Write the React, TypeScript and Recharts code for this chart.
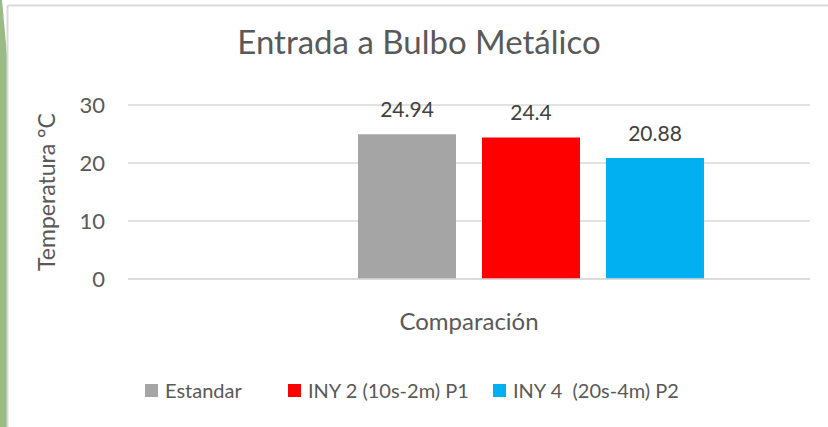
import { BarChart, Bar, XAxis, YAxis, CartesianGrid, Legend, LabelList } from "recharts";

const categories = ["Comparación"];
const seriesNames = ["Estandar", "INY 2 (10s-2m) P1", "INY 4  (20s-4m) P2"];
const seriesValues = [[24.94], [24.4], [20.88]];
const seriesColors = ["#A5A5A5", "#FF0000", "#00B0F0"];
const yTicks = [0, 10, 20, 30];

const data = categories.map((name, i) => {
  const row: Record<string, string | number | null> = { name, blank: null };
  seriesNames.forEach((s, j) => {
    row[`s${j}`] = seriesValues[j][i];
  });
  return row;
});

const FONT = "Lato, 'Open Sans', sans-serif";
// legend item slot widths
const legendSlots = [143, 205, 200];

function LegendContent() {
  return (
    <div style={{ display: "flex", alignItems: "center", fontFamily: FONT, fontSize: 20, color: "#595959", height: 22 }}>
      {seriesNames.map((s, i) => (
        <div key={s} style={{ display: "flex", alignItems: "center", width: legendSlots[i] }}>
          <span style={{ width: 13, height: 13, background: seriesColors[i], display: "inline-block", marginRight: 7, flex: "none" }} />
          <span style={{ whiteSpace: "pre" }}>{s}</span>
        </div>
      ))}
    </div>
  );
}

export default function App() {
  return (
    <div style={{ position: "absolute", left: 0, top: 0, width: 828, height: 427, background: "#fff", overflow: "hidden" }}>
      <svg width={828} height={427} style={{ position: "absolute", left: 0, top: 0 }}>
        <polygon points="0,0 2,0 7,55 7,427 0,427" fill="#9BBB85" />
        <line x1={7.5} y1={5.5} x2={828} y2={5.5} stroke="#D9D9D9" strokeWidth={2} />
        <line x1={7.5} y1={5.5} x2={7.5} y2={427} stroke="#D9D9D9" strokeWidth={2} />
        <text x={419} y={54} textAnchor="middle" fontFamily={FONT} fontSize={33} fill="#595959">
          Entrada a Bulbo Metálico
        </text>
      </svg>
      <div style={{ position: "absolute", left: 0, top: 0 }}>
        <BarChart
          width={828}
          height={427}
          data={data}
          margin={{ top: 105, right: 18, left: 30, bottom: 66 }}
          barCategoryGap={106}
          barGap={26}
        >
          <CartesianGrid vertical={false} stroke="#D9D9D9" strokeWidth={1.5} />
          <XAxis
            dataKey="name"
            height={60}
            tickLine={false}
            axisLine={{ stroke: "#D9D9D9", strokeWidth: 1.5 }}
            tickMargin={28}
            tick={{ fontFamily: FONT, fontSize: 24, fill: "#595959" }}
          />
          <YAxis
            width={98}
            domain={[0, 30]}
            ticks={yTicks}
            tickLine={false}
            axisLine={false}
            tickMargin={17}
            tick={{ fontFamily: FONT, fontSize: 22, fill: "#595959" }}
            label={({ viewBox }: any) => {
              const cx = viewBox.x + 16;
              const cy = viewBox.y + viewBox.height / 2;
              return (
                <text
                  x={cx}
                  y={cy}
                  transform={`rotate(-90 ${cx} ${cy})`}
                  textAnchor="middle"
                  dominantBaseline="central"
                  fontFamily={FONT}
                  fontSize={23}
                  fill="#595959"
                >
                  Temperatura °C
                </text>
              );
            }}
          />
          <Legend
            content={<LegendContent />}
            wrapperStyle={{ position: "absolute", left: 145, top: 379, width: "auto" }}
          />
          <Bar dataKey="blank" fill="#ffffff" legendType="none" isAnimationActive={false} />
          {seriesNames.map((s, i) => (
            <Bar key={s} dataKey={`s${i}`} name={s} fill={seriesColors[i]} isAnimationActive={false}>
              <LabelList dataKey={`s${i}`} position="top" offset={17} style={{ fontFamily: FONT, fontSize: 21, fill: "#404040" }} />
            </Bar>
          ))}
        </BarChart>
      </div>
    </div>
  );
}
